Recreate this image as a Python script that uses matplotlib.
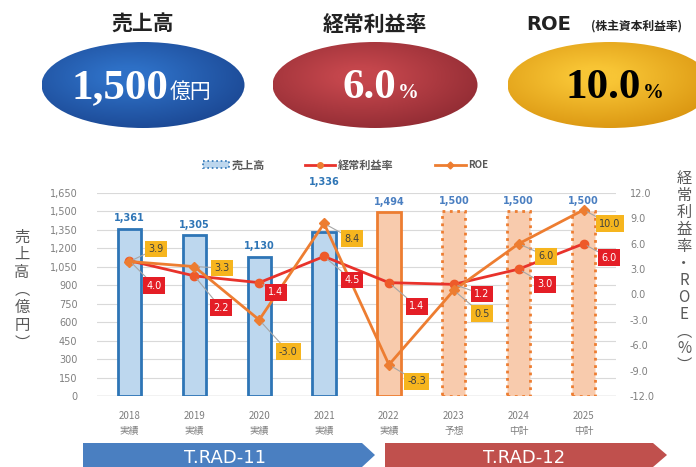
import matplotlib.pyplot as plt
import numpy as np
from matplotlib.patches import Ellipse, Polygon, Rectangle
from matplotlib.colors import LinearSegmentedColormap

plt.rcParams['font.family'] = ['Noto Sans CJK JP', 'DejaVu Sans']

years = ["2018", "2019", "2020", "2021", "2022", "2023", "2024", "2025"]
status = ["実績", "実績", "実績", "実績", "実績", "予想", "中計", "中計"]
sales = [1361, 1305, 1130, 1336, 1494, 1500, 1500, 1500]
opm = [4.0, 2.2, 1.4, 4.5, 1.4, 1.2, 3.0, 6.0]
roe = [3.9, 3.3, -3.0, 8.4, -8.3, 0.5, 6.0, 10.0]

# label offsets in points (dx, dy), dy negative = below
opm_off = [(18, -18), (19, -23), (12, -7), (20, -17), (20, -17), (20, -7), (19, -11), (18, -10)]
roe_off = [(19, 9), (20, -1), (21, -23), (20, -11), (20, -12), (20, -17), (20, -9), (19, -10)]
# sales label lift above bar (points)
sales_lift = [4, 4, 4, 32, 4, 4, 4, 4]

blue = "#2E75B6"
blue_fill = "#BDD7EE"
orange = "#ED7D31"
orange_fill = "#F8CBAD"
red = "#E8322B"
grey = "#7F7F7F"

fig = plt.figure(figsize=(6.96, 4.67), dpi=100)

# overlay in pixel coords
ov = fig.add_axes([0, 0, 1, 1])
ov.set_xlim(0, 696)
ov.set_ylim(467, 0)
ov.axis("off")


def grad_ellipse(cx, cy, w, h, c_in, c_out):
    cmap = LinearSegmentedColormap.from_list("g", [c_in, c_out])
    xx, yy = np.meshgrid(np.linspace(-1, 1, 200), np.linspace(-1, 1, 100))
    r = np.sqrt(((xx + 0.15) / 1.1) ** 2 + ((yy + 0.2) / 1.1) ** 2)
    im = ov.imshow(r, cmap=cmap, extent=(cx - w / 2, cx + w / 2, cy + h / 2, cy - h / 2),
                   vmin=0.2, vmax=1.25, aspect="auto", zorder=1)
    e = Ellipse((cx, cy), w, h, facecolor="none", edgecolor="none")
    ov.add_patch(e)
    im.set_clip_path(e)


grad_ellipse(143, 85, 203, 86, "#2E70C6", "#1A4590")
grad_ellipse(375, 85, 205, 86, "#C4464C", "#8E2A32")
grad_ellipse(610, 85, 205, 86, "#F8C535", "#D8920E")
ov.set_xlim(0, 696)
ov.set_ylim(467, 0)

ov.text(143, 24, "売上高", ha="center", va="center", fontsize=15, fontweight="bold", color="#222222")
ov.text(375, 24, "経常利益率", ha="center", va="center", fontsize=15, fontweight="bold", color="#222222")
ov.text(549, 24, "ROE", ha="center", va="center", fontsize=14, fontweight="bold", color="#222222",
        family="DejaVu Sans")
ov.text(636, 26, "(株主資本利益率)", ha="center", va="center", fontsize=8.5, fontweight="bold", color="#222222")

ov.text(168, 88, "1,500", ha="right", va="center", fontsize=31, fontweight="bold", color="white",
        family="Liberation Serif")
ov.text(170, 92, "億円", ha="left", va="center", fontsize=15, color="white")
ov.text(396, 88, "6.0", ha="right", va="center", fontsize=31, fontweight="bold", color="white",
        family="Liberation Serif")
ov.text(398, 93, "%", ha="left", va="center", fontsize=15, fontweight="bold", color="white",
        family="Liberation Serif")
ov.text(641, 88, "10.0", ha="right", va="center", fontsize=31, fontweight="bold", color="black",
        family="Liberation Serif")
ov.text(643, 93, "%", ha="left", va="center", fontsize=15, fontweight="bold", color="black",
        family="Liberation Serif")

# legend
ov.add_patch(Rectangle((203, 161), 26, 7, facecolor=blue_fill, edgecolor=blue, lw=1.2, ls=":"))
ov.text(232, 165, "売上高", ha="left", va="center", fontsize=8, color="#595959", fontweight="bold")
ov.plot([305, 335], [165, 165], color=red, lw=2)
ov.plot([320], [165], "o", color=orange, ms=4)
ov.text(338, 165, "経常利益率", ha="left", va="center", fontsize=8, color="#595959", fontweight="bold")
ov.plot([435, 466], [165, 165], color=orange, lw=2)
ov.plot([450], [165], "D", color=orange, ms=3.5)
ov.text(468, 165, "ROE", ha="left", va="center", fontsize=7, color="#595959", fontweight="bold")

# axis titles (vertical)
ov.text(22, 290, "\n".join("売上高︵億円︶"), ha="center", va="center", fontsize=11,
        color="#595959", linespacing=1.05)
ov.text(684, 272, "\n".join("経常利益率・ROE︵%︶"), ha="center", va="center", fontsize=11,
        color="#595959", linespacing=1.0)

# phase arrows
ov.add_patch(Polygon([(83, 443), (362, 443), (375, 455), (362, 467), (83, 467)],
                     closed=True, facecolor="#4A7FC1", edgecolor="none"))
ov.text(225, 458, "T.RAD-11", ha="center", va="center", fontsize=13, color="white",
        family="DejaVu Sans")
ov.add_patch(Polygon([(385, 443), (653, 443), (667, 455), (653, 467), (385, 467)],
                     closed=True, facecolor="#C0504D", edgecolor="none"))
ov.text(524, 458, "T.RAD-12", ha="center", va="center", fontsize=13, color="white",
        family="DejaVu Sans")

# main chart
ax = fig.add_axes([97 / 696, 71 / 467, 519 / 696, 203 / 467])
x = np.arange(len(years))
ax.set_xlim(-0.5, len(years) - 0.5)
ax.set_ylim(0, 1650)
yt = np.arange(0, 1651, 150)
for v in yt[1:]:
    ax.axhline(v, color="#D9D9D9", lw=0.8, zorder=0)
ax.axhline(0, color="#BFBFBF", lw=1, zorder=0)

for i in range(len(years)):
    if i < 4:
        fc, ec, ls = blue_fill, blue, "-"
    elif i == 4:
        fc, ec, ls = orange_fill, orange, "-"
    else:
        fc, ec, ls = orange_fill, orange, ":"
    ax.bar(x[i], sales[i], width=0.36, facecolor=fc, edgecolor=ec, lw=2, ls=ls, zorder=2)
    c = blue if i < 4 else "#4A7FC1"
    ax.annotate(f"{sales[i]:,}", (x[i], sales[i]), xytext=(0, sales_lift[i]), textcoords="offset points",
                ha="center", va="bottom", fontsize=7, fontweight="bold", color=c,
                family="DejaVu Sans", annotation_clip=False)

ax.set_yticks(yt)
ax.set_yticklabels([f"{v:,}" for v in yt], family="DejaVu Sans")
ax.set_xticks(x)
ax.set_xticklabels([f"{y}\n{s}" for y, s in zip(years, status)], linespacing=1.6)
ax.tick_params(axis="both", length=0, labelsize=7, labelcolor=grey)
ax.tick_params(axis="y", pad=14)
ax.tick_params(axis="x", pad=11)
for s in ax.spines.values():
    s.set_visible(False)

ax2 = ax.twinx()
ax2.set_ylim(-12, 12)
rt = np.arange(-12, 12.1, 3)
ax2.set_yticks(rt)
ax2.set_yticklabels([f"{v:.1f}" for v in rt], family="DejaVu Sans")
ax2.tick_params(axis="y", length=0, labelsize=7, labelcolor=grey, pad=10)
for s in ax2.spines.values():
    s.set_visible(False)

ax2.plot(x, opm, color=red, lw=2, marker="o", ms=6, mfc="#EE5A2A", mec="#EE5A2A", zorder=3)
ax2.plot(x, roe, color=orange, lw=2, marker="D", ms=5, mfc=orange, mec=orange, zorder=4)

for i in range(len(years)):
    ax2.annotate(f"{opm[i]:.1f}", (x[i], opm[i]), xytext=opm_off[i], textcoords="offset points",
                 ha="center", va="center", fontsize=7, color="white", family="DejaVu Sans",
                 bbox=dict(boxstyle="square,pad=0.35", fc="#E41E26", ec="none"),
                 arrowprops=dict(arrowstyle="-", color="#A6A6A6", lw=0.8, shrinkA=0, shrinkB=3),
                 zorder=6)
    ax2.annotate(f"{roe[i]:.1f}", (x[i], roe[i]), xytext=roe_off[i], textcoords="offset points",
                 ha="center", va="center", fontsize=7, color="#404040", family="DejaVu Sans",
                 bbox=dict(boxstyle="square,pad=0.35", fc="#F6B51E", ec="none"),
                 arrowprops=dict(arrowstyle="-", color="#A6A6A6", lw=0.8, shrinkA=0, shrinkB=3),
                 zorder=6)

fig.savefig("out.png", dpi=100)
